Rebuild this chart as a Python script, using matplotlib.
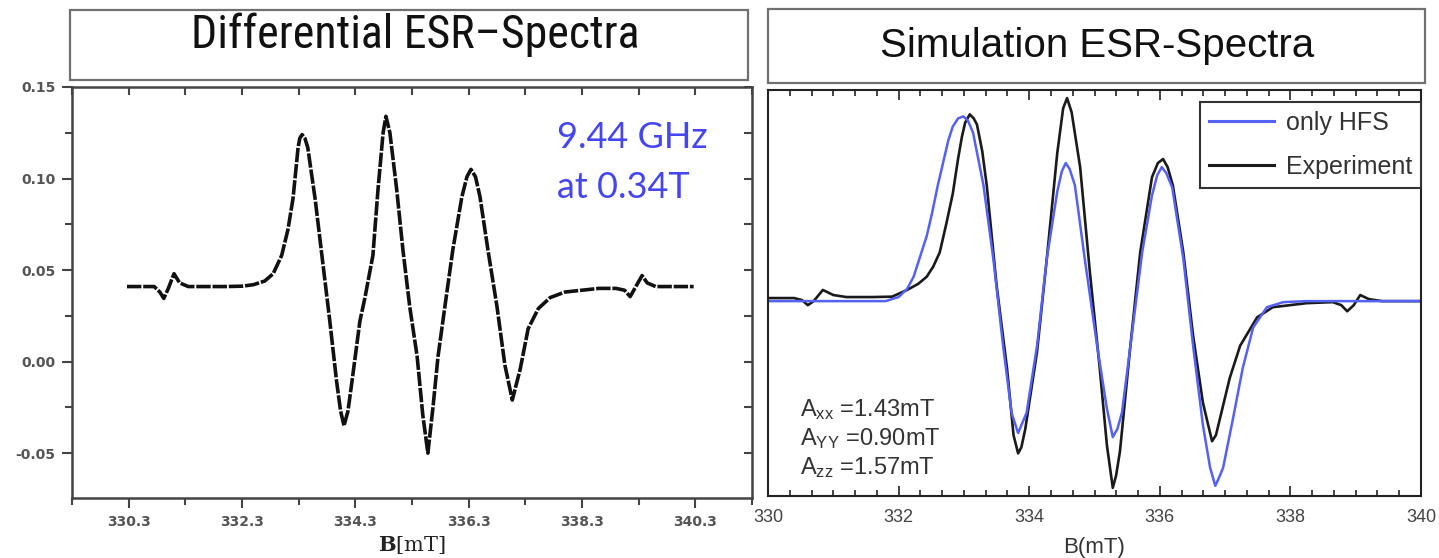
import matplotlib
matplotlib.use("Agg")
import matplotlib.pyplot as plt
from matplotlib import font_manager
from matplotlib.patches import Rectangle
from matplotlib.lines import Line2D
from matplotlib.ticker import FixedLocator, AutoMinorLocator

plt.rcParams['font.family'] = ['Liberation Sans', 'DejaVu Sans']

# --- left: measured first-derivative spectrum, B in mT ---
exp_field = [330.27, 330.5, 330.75, 330.85, 330.92, 331.0, 331.1, 331.2, 331.35, 331.6,
             332.0, 332.3, 332.5, 332.7, 332.85, 333.0, 333.11, 333.2, 333.29, 333.32,
             333.36, 333.41, 333.46, 333.59, 333.71, 333.85, 333.97, 334.04, 334.1, 334.17,
             334.24, 334.38, 334.47, 334.61, 334.7, 334.79, 334.84, 334.91, 335.03, 335.14,
             335.26, 335.39, 335.49, 335.58, 335.67, 335.76, 335.88, 336.02, 336.18, 336.27,
             336.34, 336.42, 336.5, 336.64, 336.8, 336.94, 337.07, 337.21, 337.35, 337.53,
             337.74, 338.0, 338.3, 338.6, 338.9, 339.05, 339.15, 339.25, 339.36, 339.45,
             339.6, 339.8, 340.0, 340.27]
exp_signal = [0.041, 0.041, 0.041, 0.038, 0.0345, 0.040, 0.048, 0.043, 0.041, 0.041,
              0.041, 0.0412, 0.042, 0.044, 0.048, 0.058, 0.072, 0.089, 0.117, 0.122,
              0.124, 0.122, 0.117, 0.089, 0.058, 0.022, -0.011, -0.027, -0.035, -0.027,
              -0.011, 0.022, 0.035, 0.058, 0.094, 0.125, 0.134, 0.125, 0.094, 0.061,
              0.030, 0.003, -0.029, -0.050, -0.025, 0.003, 0.030, 0.061, 0.090, 0.101,
              0.105, 0.101, 0.090, 0.061, 0.030, -0.002, -0.021, -0.004, 0.018, 0.029,
              0.035, 0.038, 0.039, 0.040, 0.040, 0.039, 0.0355, 0.041, 0.047, 0.043,
              0.041, 0.041, 0.041, 0.041]

# --- right: experiment vs. hyperfine-only simulation (arb. units) ---
meas_field = [330.0, 330.4, 330.52, 330.61, 330.7, 330.84, 331.0, 331.2, 331.6, 331.9,
              332.13, 332.3, 332.43, 332.53, 332.63, 332.73, 332.83, 332.91, 332.97, 333.02,
              333.09, 333.15, 333.2, 333.28, 333.35, 333.5, 333.66, 333.76, 333.83, 333.88,
              333.94, 334.12, 334.27, 334.43, 334.52, 334.58, 334.65, 334.78, 334.93, 335.08,
              335.19, 335.28, 335.33, 335.39, 335.54, 335.7, 335.88, 335.97, 336.05, 336.12,
              336.2, 336.36, 336.51, 336.66, 336.8, 336.86, 336.92, 337.07, 337.23, 337.49,
              337.73, 338.25, 338.65, 338.78, 338.87, 338.97, 339.07, 339.2, 339.4, 340.0]
meas_signal = [-0.025, -0.025, -0.035, -0.06, -0.04, 0.015, -0.01, -0.02, -0.02, -0.018,
               0.015, 0.045, 0.08, 0.13, 0.20, 0.34, 0.49, 0.66, 0.77, 0.84,
               0.88, 0.86, 0.83, 0.70, 0.53, 0.04, -0.37, -0.70, -0.79, -0.76,
               -0.67, -0.29, 0.17, 0.69, 0.91, 0.96, 0.89, 0.62, 0.10, -0.37,
               -0.75, -0.96, -0.90, -0.78, -0.29, 0.20, 0.57, 0.64, 0.66, 0.62,
               0.53, 0.20, -0.21, -0.54, -0.73, -0.70, -0.62, -0.42, -0.26, -0.12,
               -0.07, -0.05, -0.045, -0.06, -0.09, -0.06, -0.01, -0.03, -0.04, -0.04]

hfs_field = [330.0, 331.0, 331.8, 332.0, 332.13, 332.23, 332.33, 332.43, 332.51, 332.6,
             332.68, 332.76, 332.83, 332.91, 332.99, 333.06, 333.14, 333.3, 333.45, 333.6,
             333.73, 333.83, 333.96, 334.12, 334.27, 334.43, 334.5, 334.56, 334.62, 334.7,
             334.85, 335.04, 335.19, 335.28, 335.35, 335.42, 335.57, 335.73, 335.88, 335.96,
             336.03, 336.1, 336.19, 336.36, 336.51, 336.66, 336.77, 336.85, 336.92, 336.97,
             337.12, 337.27, 337.43, 337.64, 337.89, 338.25, 340.0]
hfs_signal = [-0.04, -0.04, -0.04, -0.02, 0.02, 0.08, 0.18, 0.28, 0.39, 0.53,
              0.64, 0.75, 0.82, 0.86, 0.87, 0.85, 0.79, 0.53, 0.17, -0.26,
              -0.59, -0.69, -0.59, -0.26, 0.17, 0.50, 0.60, 0.64, 0.61, 0.53,
              0.17, -0.26, -0.57, -0.71, -0.67, -0.59, -0.21, 0.20, 0.48, 0.58,
              0.62, 0.59, 0.52, 0.17, -0.26, -0.65, -0.86, -0.95, -0.90, -0.86,
              -0.62, -0.37, -0.17, -0.07, -0.045, -0.04, -0.04]

left_xticks = [330.3, 332.3, 334.3, 336.3, 338.3, 340.3]
left_xminor = [329.3, 331.3, 333.3, 335.3, 337.3, 339.3, 341.3]
left_yticks = [-0.05, 0.0, 0.05, 0.10, 0.15]
left_yminor = [-0.075, -0.025, 0.025, 0.075, 0.125]
right_xticks = [330, 332, 334, 336, 338, 340]
hfs_labels = ['xx', 'YY', 'zz']
hfs_values = ['1.43', '0.90', '1.57']

W, H = 1439, 558


def px_box(x0, y0, x1, y1):
    return [x0 / W, 1 - y1 / H, (x1 - x0) / W, (y1 - y0) / H]


# regular-weight narrow sans for the left header, if one is around
narrow = None
skip = ('bold', 'italic', 'oblique', 'light', 'thin', 'medium', 'semi', 'black', 'extra', 'heavy')
for path in sorted(font_manager.findSystemFonts()):
    name = path.split('/')[-1].lower()
    if ('narrow' in name or 'condensed' in name) and not any(s in name for s in skip):
        narrow = path
        if 'liberation' in name:
            break

fig = plt.figure(figsize=(14.39, 5.58), dpi=100)

# header boxes
for (x0, y0, x1, y1) in [(70, 10, 748, 80), (768, 9, 1425, 83)]:
    b = px_box(x0, y0, x1, y1)
    fig.add_artist(Rectangle((b[0], b[1]), b[2], b[3], transform=fig.transFigure,
                             fill=False, edgecolor='#707070', lw=1.6))
if narrow:
    fig.text(415 / W, 1 - 35 / H, 'Differential ESR\u2013Spectra', ha='center', va='center',
             fontproperties=font_manager.FontProperties(fname=narrow, size=33), color='#111')
else:
    fig.text(415 / W, 1 - 35 / H, 'Differential ESR\u2013Spectra', ha='center', va='center',
             fontsize=31, family='DejaVu Sans', color='#111')
fig.text(1097 / W, 1 - 46 / H, 'Simulation ESR-Spectra', ha='center', va='center',
         fontsize=29, color='#111')

# ---------------- left panel ----------------
ax1 = fig.add_axes(px_box(72, 87, 752, 498))
ax1.plot(exp_field, exp_signal, color='#111', lw=2.6, linestyle=(0, (4, 0.5)))
ax1.set_xlim(329.3, 341.3)
ax1.set_ylim(-0.0745, 0.15)
ax1.xaxis.set_major_locator(FixedLocator(left_xticks))
ax1.xaxis.set_minor_locator(FixedLocator(left_xminor))
ax1.yaxis.set_major_locator(FixedLocator(left_yticks))
ax1.yaxis.set_minor_locator(FixedLocator(left_yminor))
ax1.set_xticklabels(['%.1f' % v for v in left_xticks])
ax1.set_yticklabels(['%.2f' % v for v in left_yticks])
ax1.tick_params(which='both', direction='out', color='#444', width=1.5,
                labelsize=10, labelcolor='#555', pad=5)
ax1.tick_params(which='major', length=7)
ax1.tick_params(which='minor', length=5)
for lab in ax1.get_xticklabels() + ax1.get_yticklabels():
    lab.set_fontfamily('DejaVu Sans')
    lab.set_fontweight('bold')
for sp in ax1.spines.values():
    sp.set_color('#444')
    sp.set_linewidth(1.8)

top1 = ax1.secondary_xaxis('top')
top1.xaxis.set_major_locator(FixedLocator(left_xticks))
top1.xaxis.set_minor_locator(FixedLocator(left_xminor))
top1.tick_params(which='both', direction='in', length=6, width=1.5, color='#444', labeltop=False)
top1.spines['top'].set_visible(False)
right1 = ax1.secondary_yaxis('right')
right1.yaxis.set_major_locator(FixedLocator(left_yticks))
right1.yaxis.set_minor_locator(FixedLocator(left_yminor))
right1.tick_params(which='both', direction='in', length=6, width=1.5, color='#444', labelright=False)
right1.spines['right'].set_visible(False)

ax1.set_xlabel(r'$\mathbf{B}\left[\mathrm{mT}\right]$', fontsize=15, color='#222',
               math_fontfamily='dejavuserif', labelpad=4)

fig.text(557 / W, 1 - 138 / H, '9.44 GHz', fontsize=26, family='Lato', color='#4646f0', va='center')
fig.text(557 / W, 1 - 187 / H, 'at 0.34T', fontsize=26, family='Lato', color='#4646f0', va='center')

# ---------------- right panel ----------------
ax2 = fig.add_axes(px_box(768, 90, 1421, 496))
ax2.plot(meas_field, meas_signal, color='#1a1a1a', lw=1.9)
ax2.plot(hfs_field, hfs_signal, color='#5560f5', lw=1.8)
ax2.set_xlim(330, 340)
ax2.set_ylim(-1.0, 1.0)
ax2.xaxis.set_major_locator(FixedLocator(right_xticks))
ax2.xaxis.set_minor_locator(AutoMinorLocator(6))
ax2.set_yticks([])
ax2.tick_params(axis='x', which='both', direction='in', top=True, bottom=True,
                width=1.2, color='#222', labelsize=13, labelcolor='#444', pad=9)
ax2.tick_params(axis='x', which='major', length=7)
ax2.tick_params(axis='x', which='minor', length=4)
for sp in ax2.spines.values():
    sp.set_color('#222')
    sp.set_linewidth(1.5)
ax2.set_xlabel('B(mT)', fontsize=16, color='#333', labelpad=8)

handles = [Line2D([], [], color='#5560f5', lw=2.2), Line2D([], [], color='#1a1a1a', lw=2.2)]
leg = ax2.legend(handles, ['only HFS', 'Experiment'], loc='upper right',
                 bbox_to_anchor=(1.0, 0.97), borderaxespad=0, fontsize=18,
                 handlelength=2.6, handletextpad=0.5, labelspacing=0.8, borderpad=0.35,
                 fancybox=False, framealpha=1, edgecolor='#333', labelcolor='#333')
leg.get_frame().set_linewidth(1.5)

for i, (sub, val) in enumerate(zip(hfs_labels, hfs_values)):
    ax2.text(0.049, 0.212 - i * 0.071, r'$\mathregular{A_{%s}}$ =%smT' % (sub, val),
             transform=ax2.transAxes, fontsize=17, color='#333', va='center')

fig.savefig('out.png', dpi=100)
